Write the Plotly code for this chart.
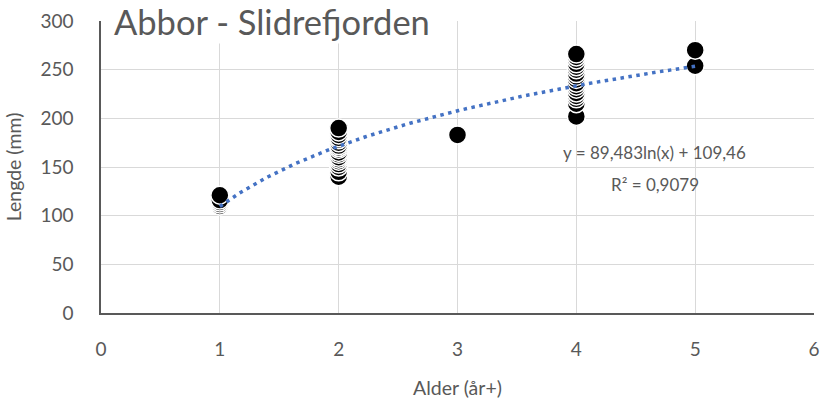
import numpy as np
import plotly.graph_objects as go

# Data (age in years, length in mm)
age_1 = [110, 112, 114, 116, 121]
age_2 = [140, 145, 150, 153, 156, 158, 160, 163, 165, 168, 170, 172, 175, 178, 180, 183, 186, 190]
age_3 = [183]
age_4 = [202, 215, 220, 223, 226, 230, 233, 236, 240, 243, 246, 250, 253, 256, 260, 263, 266]
age_5 = [254, 270]

ages = [1] * len(age_1) + [2] * len(age_2) + [3] * len(age_3) + [4] * len(age_4) + [5] * len(age_5)
lengths = age_1 + age_2 + age_3 + age_4 + age_5

# Trendline coefficients as printed on the chart
trend_a = 89.483
trend_b = 109.46
trend_x = np.linspace(1, 5, 200)
trend_y = trend_a * np.log(trend_x) + trend_b

x_ticks = [0, 1, 2, 3, 4, 5, 6]
y_ticks = [0, 50, 100, 150, 200, 250, 300]

FONT = "Lato"
GRAY = "#595959"
GRID = "#D9D9D9"

fig = go.Figure()
fig.add_trace(go.Scatter(
    x=ages, y=lengths, mode="markers",
    marker=dict(size=18, color="black", line=dict(color="white", width=1.5)),
    showlegend=False, hoverinfo="skip",
))
fig.add_trace(go.Scatter(
    x=trend_x, y=trend_y, mode="lines",
    line=dict(color="#4472C4", width=3.5, dash="3.5px,4.5px"),
    showlegend=False, hoverinfo="skip",
))

fig.update_layout(
    width=821, height=401,
    margin=dict(l=101, r=7, t=21, b=88),
    paper_bgcolor="white", plot_bgcolor="white",
    font=dict(family=FONT, color=GRAY, size=16),
    xaxis=dict(
        range=[0, 6], tickvals=x_ticks, showgrid=True, gridcolor=GRID, gridwidth=1,
        zeroline=False, showline=True, linecolor=GRAY, linewidth=1.5,
        ticks="", tickfont=dict(size=19, color=GRAY), automargin=False,
        ticklabelstandoff=18, ticklabeloverflow="allow",
        title=dict(text="Alder (år+)", font=dict(size=19.5, color=GRAY), standoff=23),
    ),
    yaxis=dict(
        range=[0, 300], tickvals=y_ticks, showgrid=True, gridcolor=GRID, gridwidth=1,
        zeroline=False, showline=True, linecolor=GRAY, linewidth=1.5,
        ticks="", tickfont=dict(size=19, color=GRAY), automargin=False,
        ticklabelstandoff=22, ticklabeloverflow="allow",
        title=dict(text="Lengde (mm)", font=dict(size=19.5, color=GRAY), standoff=14),
    ),
    annotations=[
        dict(text="Abbor - Slidrefjorden", xref="paper", yref="paper",
             x=0.016, y=1.0, xanchor="left", yanchor="middle", showarrow=False,
             font=dict(size=34.5, color=GRAY, family=FONT), bgcolor="white", borderpad=1),
        dict(text="y = 89,483ln(x) + 109,46", xref="x", yref="y",
             x=4.66, y=165, xanchor="center", yanchor="middle", showarrow=False,
             font=dict(size=17, color=GRAY, family=FONT)),
        dict(text="R² = 0,9079", xref="x", yref="y",
             x=4.66, y=132, xanchor="center", yanchor="middle", showarrow=False,
             font=dict(size=17, color=GRAY, family=FONT)),
    ],
)

# remove the default page margin so the figure fills the window exactly
fig.write_html(
    "out.html",
    config={"displayModeBar": False},
    post_script="document.body.style.margin='0';document.body.style.overflow='hidden';",
)
